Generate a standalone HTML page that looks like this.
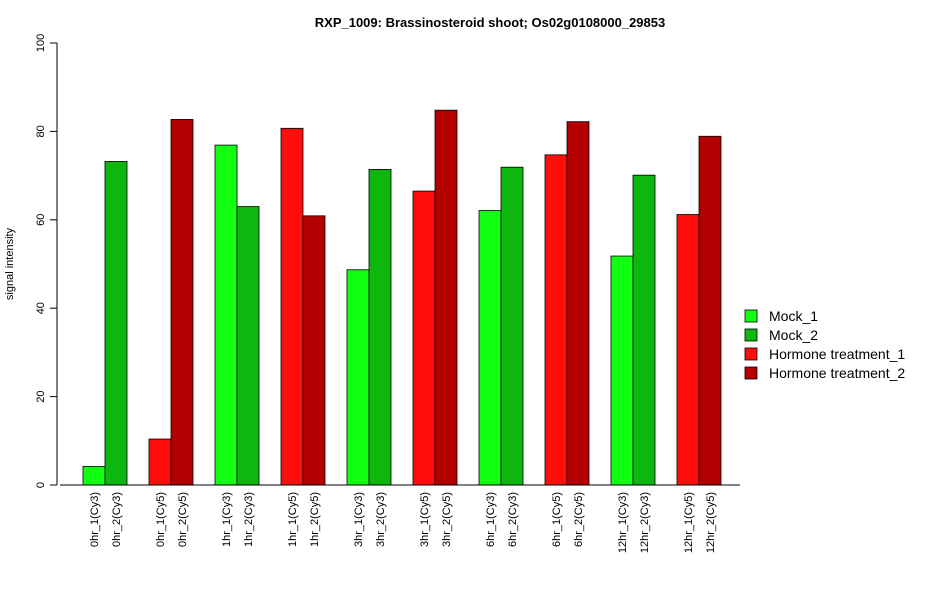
<!DOCTYPE html>
<html><head><meta charset="utf-8"><style>
body{margin:0;background:#fff;font-family:"Liberation Sans",Arial,sans-serif}
</style></head><body>
<svg id="c" width="950" height="600" xmlns="http://www.w3.org/2000/svg">
<text x="490" y="27" text-anchor="middle" font-weight="bold" font-size="13">RXP_1009: Brassinosteroid shoot; Os02g0108000_29853</text>
<text transform="translate(13,264) rotate(-90)" text-anchor="middle" font-size="11">signal intensity</text>
<g id="bars"></g><g id="yaxis"></g><g id="xlabels"></g><g id="legend"></g>
<line x1="60" y1="485" x2="740" y2="485" stroke="#000"/>
</svg>
<script>
const categories=["0hr_1(Cy3)","0hr_2(Cy3)","0hr_1(Cy5)","0hr_2(Cy5)","1hr_1(Cy3)","1hr_2(Cy3)","1hr_1(Cy5)","1hr_2(Cy5)","3hr_1(Cy3)","3hr_2(Cy3)","3hr_1(Cy5)","3hr_2(Cy5)","6hr_1(Cy3)","6hr_2(Cy3)","6hr_1(Cy5)","6hr_2(Cy5)","12hr_1(Cy3)","12hr_2(Cy3)","12hr_1(Cy5)","12hr_2(Cy5)"];
const values=[4.2,73.2,10.4,82.7,76.9,63.0,80.7,60.9,48.7,71.4,66.5,84.8,62.1,71.9,74.7,82.2,51.8,70.1,61.2,78.9];
const seriesIdx=[0,1,2,3,0,1,2,3,0,1,2,3,0,1,2,3,0,1,2,3];
const seriesNames=["Mock_1","Mock_2","Hormone treatment_1","Hormone treatment_2"];
const seriesColors=["#11ff11","#0db70d","#ff0d0d","#b40000"];
const yTicks=[0,20,40,60,80,100];
const NS="http://www.w3.org/2000/svg";
const y=v=>485-v*4.42;
const bw=22;
const x=i=>83+Math.floor(i/2)*66+(i%2)*bw;
function mk(t,a,p){const e=document.createElementNS(NS,t);for(const k in a)e.setAttribute(k,a[k]);p.appendChild(e);return e;}
const bars=document.getElementById('bars'),xl=document.getElementById('xlabels'),ya=document.getElementById('yaxis'),lg=document.getElementById('legend');
values.forEach((v,i)=>{
 const r=mk('rect',{x:x(i),y:y(v),width:bw,height:485-y(v),fill:seriesColors[seriesIdx[i]],stroke:'#000','stroke-width':0.8},bars);
 
 
 const cx=x(i)+bw/2+4;
 const t=mk('text',{transform:`translate(${cx},492) rotate(-90)`,'text-anchor':'end','font-size':11},xl);
 t.textContent=categories[i];
 
 
});
const al=mk('line',{x1:57,y1:y(0),x2:57,y2:y(100),stroke:'#000'},ya);


yTicks.forEach(v=>{
 mk('line',{x1:50,y1:y(v),x2:57,y2:y(v),stroke:'#000'},ya);
 const t=mk('text',{transform:`translate(44,${y(v)}) rotate(-90)`,'text-anchor':'middle','font-size':11},ya);
 t.textContent=v;
 
 
});
seriesNames.forEach((n,k)=>{
 const yy=316+k*19;
 const g=mk('g',{},lg);
 
 
 mk('rect',{x:745,y:yy-6,width:12,height:12,fill:seriesColors[k],stroke:'#000','stroke-width':0.8},g);
 const t=mk('text',{x:769,y:yy+5,'font-size':14},g);
 t.textContent=n;
});
</script>
</body></html>
